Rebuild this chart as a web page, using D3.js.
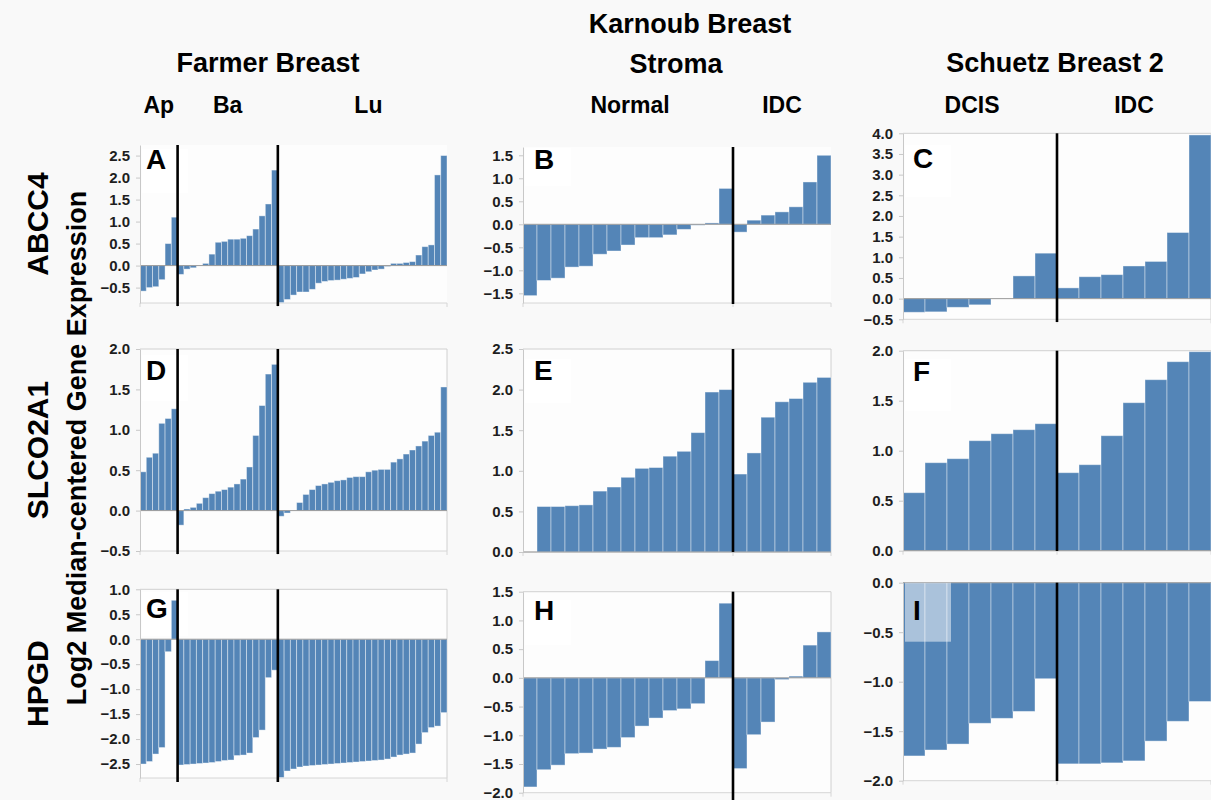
<!DOCTYPE html>
<html>
<head>
<meta charset="utf-8">
<script src="https://cdn.jsdelivr.net/npm/d3@7"></script>
<style>
    body { margin: 0; background: #f9f9f9; }
    svg { display: block; font-family: "Liberation Sans", Arial, sans-serif; }
</style>
</head>
<body>
<svg id="chart" width="1211" height="800"></svg>
<script>
// studies, subgroups and number of samples per subgroup
const farmerGroups  = ['Ap', 'Ba', 'Lu']
const farmerCounts  = [6, 16, 27]
const karnoubGroups = ['Normal', 'IDC']
const karnoubCounts = [15, 7]
const schuetzGroups = ['DCIS', 'IDC']
const schuetzCounts = [7, 7]

const genes   = ['ABCC4', 'SLCO2A1', 'HPGD']
const letters = ['A', 'B', 'C', 'D', 'E', 'F', 'G', 'H', 'I']
const yLabel  = 'Log2 Median-centered Gene Expression'

// log2 median-centered expression, samples sorted inside each subgroup
const abcc4Farmer = [
    -0.58, -0.5, -0.48, -0.32, 0.5, 1.1,
    -0.2, -0.08, -0.05, 0.0, 0.05, 0.26, 0.53, 0.55, 0.6, 0.6, 0.62, 0.68, 0.83, 1.13, 1.4, 2.17,
    -0.84, -0.77, -0.67, -0.6, -0.6, -0.54, -0.4, -0.36, -0.34, -0.33, -0.31, -0.29, -0.27, -0.19,
    -0.14, -0.1, -0.08, -0.02, 0.05, 0.05, 0.07, 0.09, 0.24, 0.43, 0.47, 2.06, 2.5
]
const slco2a1Farmer = [
    0.48, 0.66, 0.71, 1.08, 1.14, 1.26,
    -0.18, 0.02, 0.04, 0.09, 0.16, 0.21, 0.24, 0.26, 0.29, 0.33, 0.39, 0.54, 0.93, 1.3, 1.69, 1.81,
    -0.07, -0.03, 0.0, 0.1, 0.2, 0.26, 0.31, 0.33, 0.35, 0.37, 0.38, 0.41, 0.42, 0.42,
    0.48, 0.5, 0.51, 0.51, 0.6, 0.64, 0.7, 0.75, 0.8, 0.86, 0.93, 0.97, 1.53
]
const hpgdFarmer = [
    -2.5, -2.45, -2.3, -2.17, -0.25, 0.78,
    -2.52, -2.51, -2.5, -2.49, -2.48, -2.47, -2.45, -2.43, -2.42, -2.33, -2.32, -2.28, -1.97, -1.82, -0.77, -0.62,
    -2.77, -2.64, -2.6, -2.56, -2.54, -2.53, -2.52, -2.51, -2.5, -2.49, -2.48, -2.47, -2.46, -2.45,
    -2.44, -2.43, -2.42, -2.4, -2.36, -2.32, -2.3, -2.28, -2.1, -1.87, -1.77, -1.74, -1.47
]

const abcc4Karnoub = [
    -1.55, -1.22, -1.17, -0.93, -0.91, -0.65, -0.58, -0.45, -0.29, -0.29, -0.23, -0.11, -0.02, 0.03, 0.78,
    -0.17, 0.09, 0.2, 0.27, 0.38, 0.92, 1.5
]
const slco2a1Karnoub = [
    0.0, 0.56, 0.56, 0.57, 0.58, 0.75, 0.8, 0.92, 1.03, 1.04, 1.18, 1.24, 1.47, 1.97, 2.0,
    0.96, 1.22, 1.66, 1.85, 1.89, 2.09, 2.15
]
const hpgdKarnoub = [
    -1.9, -1.6, -1.52, -1.32, -1.31, -1.24, -1.21, -1.04, -0.84, -0.7, -0.57, -0.54, -0.45, 0.3, 1.3,
    -1.58, -0.99, -0.77, -0.03, 0.03, 0.57, 0.8
]

const abcc4Schuetz   = [-0.33, -0.32, -0.21, -0.15, 0.0, 0.55, 1.1, 0.26, 0.53, 0.58, 0.79, 0.9, 1.6, 3.96]
const slco2a1Schuetz = [0.58, 0.88, 0.92, 1.1, 1.17, 1.21, 1.27, 0.78, 0.86, 1.15, 1.48, 1.71, 1.89, 1.99]
const hpgdSchuetz    = [-1.75, -1.69, -1.63, -1.42, -1.37, -1.3, -0.97, -1.83, -1.83, -1.82, -1.8, -1.6, -1.4, -1.2]

// y tick labels per panel
const ticksA = [-0.5, 0, 0.5, 1, 1.5, 2, 2.5]
const ticksB = [-1.5, -1, -0.5, 0, 0.5, 1, 1.5]
const ticksC = [-0.5, 0, 0.5, 1, 1.5, 2, 2.5, 3, 3.5, 4]
const ticksD = [-0.5, 0, 0.5, 1, 1.5, 2]
const ticksE = [0, 0.5, 1, 1.5, 2, 2.5]
const ticksF = [0, 0.5, 1, 1.5, 2]
const ticksG = [-2.5, -2, -1.5, -1, -0.5, 0, 0.5, 1]
const ticksH = [-2, -1.5, -1, -0.5, 0, 0.5, 1, 1.5]
const ticksI = [-2, -1.5, -1, -0.5, 0]

// ---- layout (pixels) ----
const columns = [
    {x0: 140, x1: 447, groups: farmerGroups,  counts: farmerCounts,  letterDx: 6,  subDx: [0, 0, 6]},
    {x0: 523, x1: 831, groups: karnoubGroups, counts: karnoubCounts, letterDx: 11, subDx: [2, 0]},
    {x0: 903, x1: 1211, groups: schuetzGroups, counts: schuetzCounts, letterDx: 10, subDx: [-8, 0]}
]

const panels = [
    {col: 0, values: abcc4Farmer,    ticks: ticksA, domain: [-0.85, 2.74], top: 145,   bottom: 303,   sepEnd: 306, frame: false, labelDy: 24, boxY: 4, boxH: 44},
    {col: 1, values: abcc4Karnoub,   ticks: ticksB, domain: [-1.71, 1.68], top: 147,   bottom: 303,   sepEnd: 304, frame: false, labelDy: 22, boxY: 1, boxH: 38},
    {col: 2, values: abcc4Schuetz,   ticks: ticksC, domain: [-0.5, 4.0],   top: 133.3, bottom: 319.3, sepEnd: 322, frame: true,  labelDy: 35, boxY: 12, boxH: 52},
    {col: 0, values: slco2a1Farmer,  ticks: ticksD, domain: [-0.5, 2.0],   top: 349,   bottom: 551,   sepEnd: 554, frame: true,  labelDy: 31, boxY: 6, boxH: 46},
    {col: 1, values: slco2a1Karnoub, ticks: ticksE, domain: [0, 2.5],      top: 349,   bottom: 552,   sepEnd: 552, frame: true,  labelDy: 31, boxY: 10, boxH: 44},
    {col: 2, values: slco2a1Schuetz, ticks: ticksF, domain: [0, 2.0],      top: 350.7, bottom: 550.7, sepEnd: 551, frame: true,  labelDy: 30, boxY: 8, boxH: 52},
    {col: 0, values: hpgdFarmer,     ticks: ticksG, domain: [-2.78, 1.0],  top: 589.3, bottom: 778,   sepEnd: 782, frame: true,  labelDy: 29, boxY: 3, boxH: 44},
    {col: 1, values: hpgdKarnoub,    ticks: ticksH, domain: [-2.0, 1.5],   top: 591.7, bottom: 792.7, sepEnd: 800, frame: true,  labelDy: 28, boxY: 8, boxH: 45},
    {col: 2, values: hpgdSchuetz,    ticks: ticksI, domain: [-2.0, 0.0],   top: 582.7, bottom: 780.7, sepEnd: 781, frame: false, labelDy: 37, boxY: 0, boxH: 59}
]

const barColor = '#5485b7'
const svg = d3.select('#chart')

class Panel {

    constructor(cfg, letter){
        this.cfg    = cfg
        this.col    = columns[cfg.col]
        this.letter = letter
        this.x = d3.scaleBand()
            .domain(d3.range(cfg.values.length))
            .range([this.col.x0, this.col.x1])
            .padding(0)
        this.y = d3.scaleLinear().domain(cfg.domain).range([cfg.bottom, cfg.top])
        this.g = svg.append('g')
    }

    // x positions of the group boundaries
    boundaries(){
        const cuts = d3.cumsum(this.col.counts).slice(0, -1)
        return Array.from(cuts, c => this.x(c))
    }

    draw(){
        const {cfg, col, x, y, g} = this

        g.append('rect')
            .attr('x', col.x0).attr('y', cfg.top)
            .attr('width', col.x1 - col.x0).attr('height', cfg.bottom - cfg.top)
            .attr('fill', '#fdfdfd')

        if (cfg.frame){
            g.append('path')
                .attr('d', `M${col.x0},${cfg.top}H${col.x1}V${cfg.bottom}`)
                .attr('fill', 'none').attr('stroke', '#d0d0d0')
        }

        // bottom line with small ticks at the group edges
        g.append('line')
            .attr('x1', col.x0).attr('x2', col.x1)
            .attr('y1', cfg.bottom).attr('y2', cfg.bottom)
            .attr('stroke', '#d6d6d6')
        g.selectAll('.xtick')
            .data([col.x0, ...this.boundaries(), col.x1])
            .join('line')
            .attr('x1', d => d).attr('x2', d => d)
            .attr('y1', cfg.bottom).attr('y2', cfg.bottom + 4)
            .attr('stroke', '#d6d6d6')

        // white label box sits under the bars, except in panel I where it covers them
        const box = () => g.append('rect')
            .attr('x', col.x0 + 2).attr('y', cfg.top + cfg.boxY)
            .attr('width', 46).attr('height', cfg.boxH)
            .attr('fill', '#fff')

        if (this.letter !== 'I') box()

        g.selectAll('.bar')
            .data(cfg.values)
            .join('rect')
            .attr('x', (d, i) => x(i))
            .attr('width', x.bandwidth())
            .attr('y', d => y(Math.max(0, d)))
            .attr('height', d => Math.abs(y(d) - y(0)))
            .attr('fill', barColor)
            .attr('stroke', 'rgba(255,255,255,0.45)')
            .attr('stroke-width', 0.9)

        g.append('line')
            .attr('x1', col.x0).attr('x2', col.x1)
            .attr('y1', y(0)).attr('y2', y(0))
            .attr('stroke', '#9a9a9a')

        if (this.letter === 'I') box().attr('opacity', 0.5)

        g.selectAll('.sep')
            .data(this.boundaries())
            .join('line')
            .attr('x1', d => d).attr('x2', d => d)
            .attr('y1', cfg.top).attr('y2', cfg.sepEnd)
            .attr('stroke', '#000').attr('stroke-width', 2.6)

        const axis = g.append('g')
            .attr('transform', `translate(${col.x0},0)`)
            .call(d3.axisLeft(y)
                .tickValues(cfg.ticks)
                .tickFormat(d3.format('.1f'))
                .tickSize(4)
                .tickSizeOuter(0)
                .tickPadding(6))
        axis.select('.domain').attr('stroke', '#c8c8c8')
        axis.selectAll('.tick line').attr('stroke', '#c8c8c8')
        axis.selectAll('.tick text')
            .attr('fill', '#1e1e1e')
            .attr('font-size', 15)
            .attr('font-weight', 'bold')
            .attr('font-family', '"Liberation Sans", Arial, sans-serif')

        g.append('text')
            .attr('x', col.x0 + col.letterDx)
            .attr('y', cfg.top + cfg.labelDy)
            .attr('font-size', 28)
            .attr('font-weight', 'bold')
            .attr('fill', '#000')
            .text(this.letter)
    }
}

const drawn = panels.map((p, i) => {
    const panel = new Panel(p, letters[i])
    panel.draw()
    return panel
})

// ---- headers ----
const headers = svg.append('g')
    .attr('font-weight', 'bold')
    .attr('text-anchor', 'middle')
    .attr('fill', '#000')

headers.append('text').attr('x', 268).attr('y', 72).attr('font-size', 27).text('Farmer Breast')
headers.append('text').attr('x', 690).attr('y', 33).attr('font-size', 27).text('Karnoub Breast')
headers.append('text').attr('x', 676).attr('y', 73).attr('font-size', 27).text('Stroma')
headers.append('text').attr('x', 1055).attr('y', 72).attr('font-size', 27).text('Schuetz Breast 2')

// subgroup names centred over their bars (top row panels)
drawn.slice(0, 3).forEach(panel => {
    const col  = panel.col
    const n    = panel.cfg.values.length
    const cuts = [0, ...d3.cumsum(col.counts)]
    col.groups.forEach((name, i) => {
        const right = cuts[i + 1] < n ? panel.x(cuts[i + 1]) : col.x1
        const mid   = (panel.x(cuts[i]) + right) / 2 + col.subDx[i]
        headers.append('text')
            .attr('x', mid).attr('y', 113)
            .attr('font-size', 23)
            .text(name)
    })
})

// gene names on the left
genes.forEach((gene, i) => {
    const p  = panels[i * 3]
    const cy = (p.top + p.bottom) / 2
    headers.append('text')
        .attr('transform', `translate(48,${cy}) rotate(-90)`)
        .attr('font-size', 30)
        .text(gene)
})

headers.append('text')
    .attr('transform', 'translate(86,448) rotate(-90)')
    .attr('font-size', 27)
    .text(yLabel)
</script>
</body>
</html>
